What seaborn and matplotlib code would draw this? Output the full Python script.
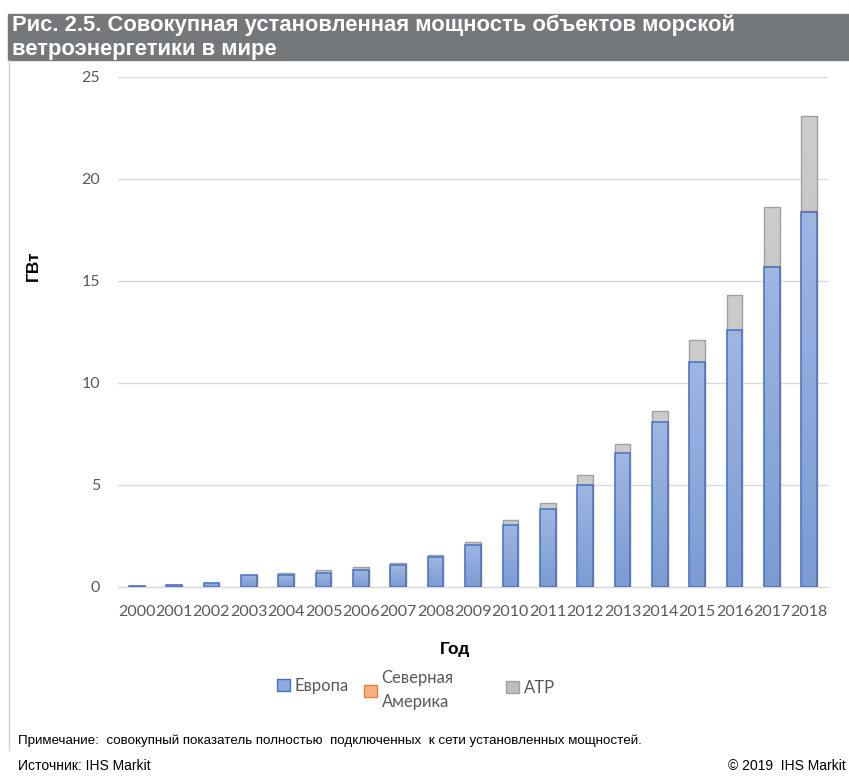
import numpy as np
import pandas as pd
import matplotlib
matplotlib.use("Agg")
import matplotlib.pyplot as plt
from matplotlib.patches import Rectangle, Patch
from matplotlib.lines import Line2D
import seaborn as sns

# Installed offshore wind capacity, GW
years = [str(y) for y in range(2000, 2019)]
europe = [0.07, 0.08, 0.22, 0.60, 0.57, 0.70, 0.85, 1.06, 1.45, 2.07,
          3.04, 3.82, 5.00, 6.55, 8.07, 11.05, 12.58, 15.70, 18.40]
north_america = [0, 0, 0, 0, 0, 0, 0, 0, 0, 0,
                 0, 0, 0, 0, 0, 0, 0.03, 0.03, 0.03]
apac = [0, 0, 0, 0, 0.10, 0.13, 0.13, 0.12, 0.12, 0.13,
        0.24, 0.28, 0.47, 0.46, 0.54, 1.05, 1.72, 2.90, 4.67]
yticks = [0, 5, 10, 15, 20, 25]

df = pd.DataFrame({"year": years, "europe": europe,
                   "na": north_america, "apac": apac})
df["stack_na"] = df["europe"] + df["na"]
df["stack_apac"] = df["stack_na"] + df["apac"]

sns.set_theme(style="white")
plt.rcParams["font.family"] = ["Lato", "DejaVu Sans"]

W, H = 849, 776
fig = plt.figure(figsize=(W / 100, H / 100), dpi=100)
ax = fig.add_axes([118 / W, 1 - 587 / H, (828 - 118) / W, (587 - 77) / H])

BLUE_EDGE = "#4472c4"
GRAY_EDGE = "#a0a0a0"
ORANGE_EDGE = "#ed7d31"
bw = 0.42

# stacked bars: draw cumulative totals from the top layer down
sns.barplot(data=df, x="year", y="stack_apac", order=years, color="#bdbdbd",
            width=bw, saturation=1, edgecolor=GRAY_EDGE, linewidth=1.0, ax=ax,
            zorder=2)
n_gray = len(ax.patches)
sns.barplot(data=df, x="year", y="stack_na", order=years, color="#f4b183",
            width=bw, saturation=1, edgecolor=ORANGE_EDGE, linewidth=0.8, ax=ax,
            zorder=3)
n_or = len(ax.patches)
sns.barplot(data=df, x="year", y="europe", order=years, color="#8faadc",
            width=bw, saturation=1, edgecolor=BLUE_EDGE, linewidth=1.1, ax=ax,
            zorder=4)


def shade(patch, top, bottom):
    """Fill a bar with a soft vertical gradient."""
    x, y = patch.get_x(), patch.get_y()
    w, h = patch.get_width(), patch.get_height()
    if h <= 0:
        return
    grad = np.linspace(0, 1, 64).reshape(-1, 1)
    c0 = np.array(matplotlib.colors.to_rgb(top))
    c1 = np.array(matplotlib.colors.to_rgb(bottom))
    img = c0[None, None, :] * (1 - grad[..., None]) + c1[None, None, :] * grad[..., None]
    im = ax.imshow(img, extent=[x, x + w, y, y + h], origin="upper",
                   aspect="auto", zorder=patch.get_zorder() - 0.01,
                   interpolation="bilinear")
    im.set_clip_path(patch)
    patch.set_facecolor("none")


for i, p in enumerate(list(ax.patches)):
    if i < n_gray:
        shade(p, "#cdcdcd", "#b3b3b3")
    elif i < n_or:
        shade(p, "#f8c39f", "#f19f6b")
    else:
        shade(p, "#9fb6e1", "#7c9bd3")

ax.set_xlim(-0.5, len(years) - 0.5)
ax.set_ylim(0, 25)

ax.set_yticks(yticks)
ax.yaxis.grid(True, color="#d9d9d9", linewidth=1.0, zorder=0)
ax.set_axisbelow(True)
for s in ["top", "right", "left"]:
    ax.spines[s].set_visible(False)
ax.spines["bottom"].set_color("#d9d9d9")
ax.spines["bottom"].set_linewidth(1.0)
ax.tick_params(axis="both", length=0, labelsize=11.5, labelcolor="#595959")
ax.tick_params(axis="y", pad=13)
ax.tick_params(axis="x", pad=13)
ax.set_xticks(range(len(years)))
ax.set_xticklabels(years)

label_font = ["Liberation Sans", "DejaVu Sans"]
ax.set_xlabel("Год", fontsize=12.5, fontweight="bold", color="black",
              family=label_font)
ax.xaxis.set_label_coords((455 - 118) / 710, (587 - 642) / 510)
ax.set_ylabel("ГВт", fontsize=12.5, fontweight="bold", color="black",
              family=label_font)
ax.yaxis.set_label_coords((41 - 118) / 710, (587 - 266) / 510)

# title banner
fig.patches.append(Rectangle((8 / W, 1 - 60 / H), 1, 46 / H,
                             transform=fig.transFigure, color="#75787b",
                             zorder=0))
title_font = ["Liberation Sans", "DejaVu Sans"]
fig.text(12 / W, 1 - 25 / H,
         "Рис. 2.5. Совокупная установленная мощность объектов морской",
         color="white", fontsize=15.8, fontweight="bold", family=title_font,
         va="center", ha="left")
fig.text(12 / W, 1 - 49 / H, "ветроэнергетики в мире",
         color="white", fontsize=15.8, fontweight="bold", family=title_font,
         va="center", ha="left")

# left frame line
fig.add_artist(Line2D([8.5 / W, 8.5 / W], [1 - 750 / H, 1 - 60 / H],
                      transform=fig.transFigure, color="#d0d0d0", lw=1.0))

# legend, one entry per column slot
entries = [
    (Patch(facecolor="#8faadc", edgecolor=BLUE_EDGE, linewidth=1.0), "Европа", 277, 686),
    (Patch(facecolor="#f4b183", edgecolor=ORANGE_EDGE, linewidth=1.0), "Северная\nАмерика", 364, 690),
    (Patch(facecolor="#bdbdbd", edgecolor=GRAY_EDGE, linewidth=1.0), "АТР", 506, 688),
]
for handle, text, px, py in entries:
    leg = fig.legend([handle], [text], loc="center left",
                     bbox_to_anchor=(px / W, 1 - py / H), frameon=False,
                     handlelength=0.75, handleheight=0.75, handletextpad=0.3,
                     borderpad=0, borderaxespad=0, fontsize=12,
                     labelcolor="#595959")
    for t in leg.get_texts():
        t.set_linespacing(1.55)

small_font = ["Liberation Sans", "DejaVu Sans"]
fig.text(18 / W, 1 - 741 / H,
         "Примечание:  совокупный показатель полностью  подключенных  к сети установленных мощностей.",
         fontsize=9.65, family=small_font, color="black", va="center", ha="left")
fig.text(18 / W, 1 - 766 / H, "Источник: IHS Markit",
         fontsize=10, family=small_font, color="black", va="center", ha="left")
fig.text(846 / W, 1 - 766 / H, "© 2019  IHS Markit",
         fontsize=10, family=small_font, color="black", va="center", ha="right")

fig.savefig("out.png", dpi=100)
